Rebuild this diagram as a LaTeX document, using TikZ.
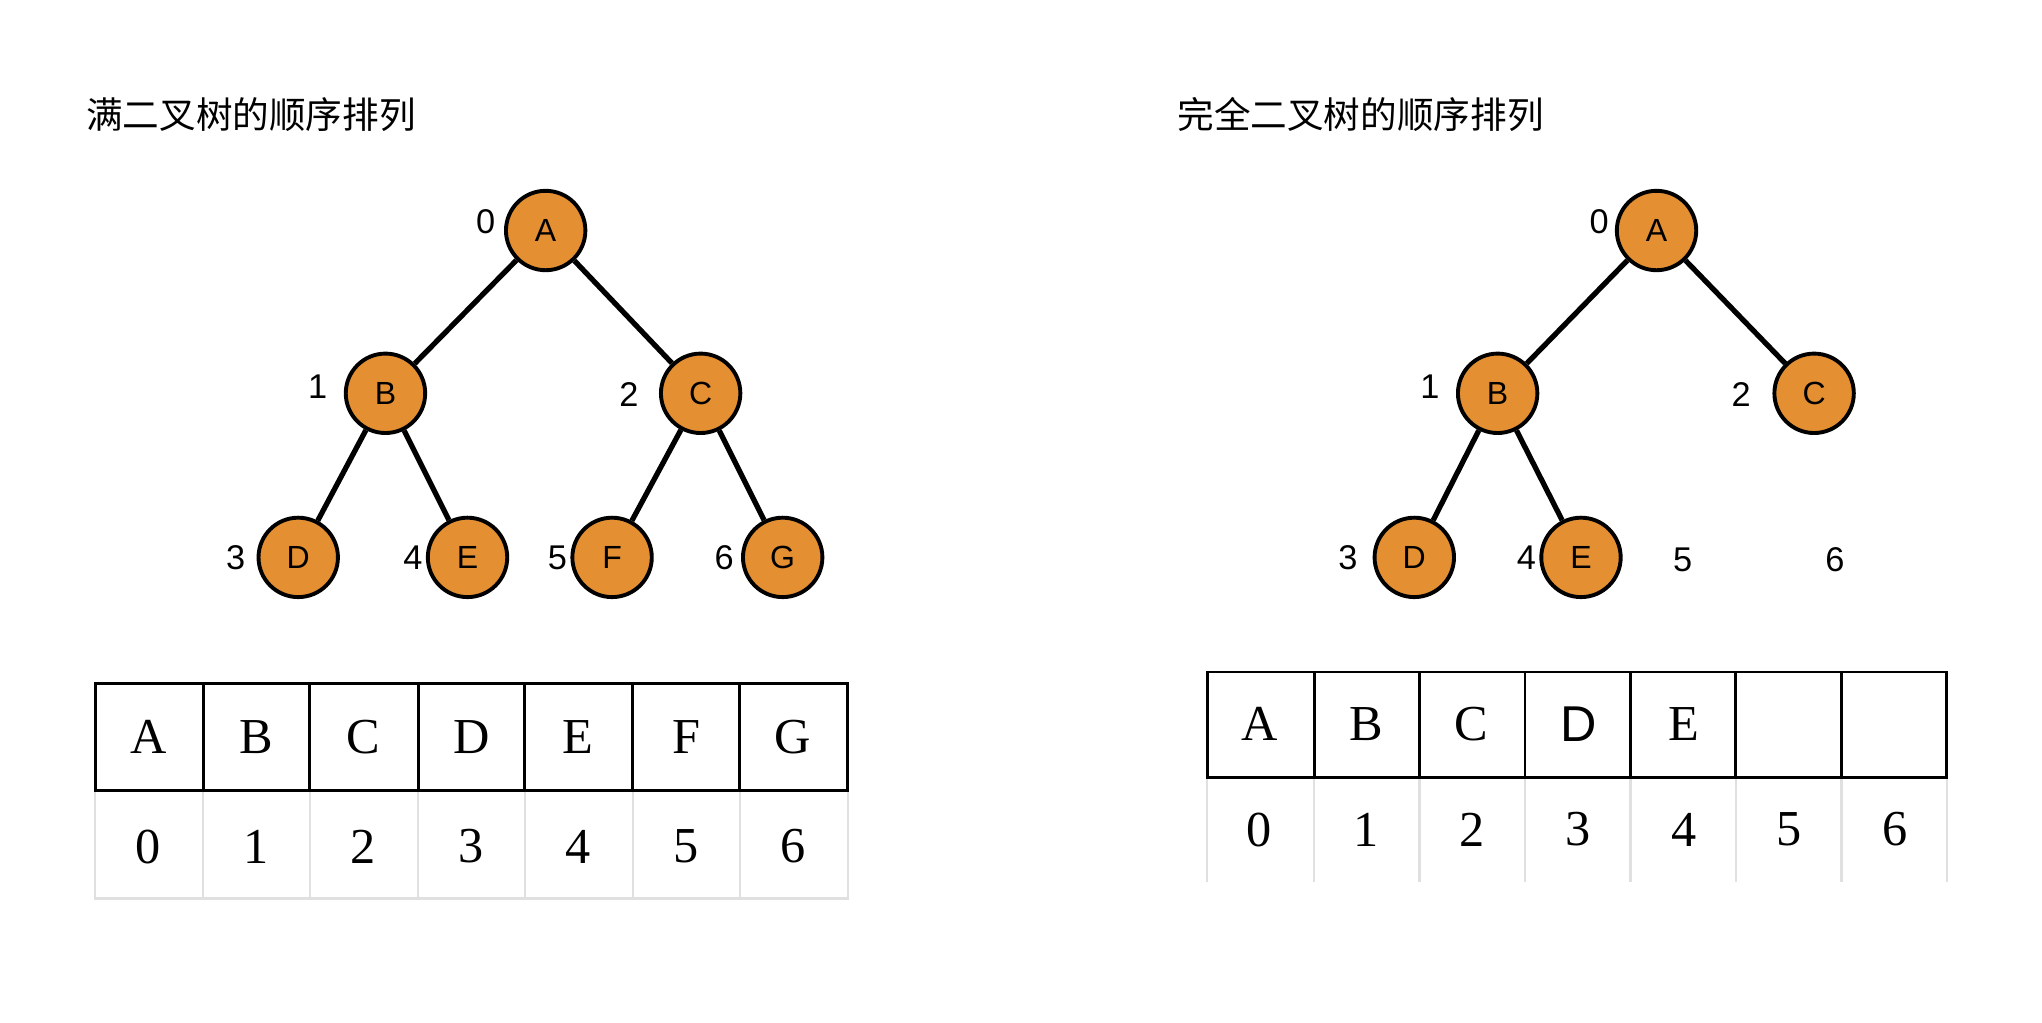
\documentclass[tikz,border=0pt]{standalone}
\usepackage{fontspec}
\setmainfont{Liberation Serif}
\setsansfont{Liberation Sans}
\newfontfamily\cjk{Noto Sans CJK SC}
\begin{document}
\begin{tikzpicture}[x=0.02cm,y=-0.02cm,
  nd/.style={circle,draw=black,line width=1.7pt,fill=orange!75!brown!90!white,fill=ndcol,minimum size=1.22cm,inner sep=0pt,font=\sffamily\fontsize{14}{14}\selectfont},
  lb/.style={font=\sffamily\fontsize{15}{15}\selectfont},
  ed/.style={line width=2.3pt},
  cellt/.style={font=\fontsize{22}{22}\selectfont},
  ttl/.style={anchor=west,font=\cjk\fontsize{16}{16}\selectfont}]
\definecolor{ndcol}{HTML}{E38F32}
\path[use as bounding box] (0,0) rectangle (1568,785);
\node[ttl] (t1) at (60,88) {满二叉树的顺序排列};
\node[ttl] (t2) at (898,88) {完全二叉树的顺序排列};
% left tree
\node[nd] (A) at (419,177) {A};
\node[nd] (B) at (296,302) {B};
\node[nd] (C) at (538,302) {C};
\node[nd] (D) at (229,428) {D};
\node[nd] (E) at (359,428) {E};
\node[nd] (F) at (470,428) {F};
\node[nd] (G) at (601,428) {G};
\draw[ed] (A)--(B); \draw[ed] (A)--(C);
\draw[ed] (B)--(D); \draw[ed] (B)--(E);
\draw[ed] (C)--(F); \draw[ed] (C)--(G);
\foreach \t/\x/\y in {0/373/170,1/244/297,2/483/303,3/181/428,4/317/428,5/428/428,6/556/428}
  \node[lb] (l\t) at (\x,\y) {\t};
% right tree
\node[nd] (rA) at (1272,177) {A};
\node[nd] (rB) at (1150,302) {B};
\node[nd] (rC) at (1393,302) {C};
\node[nd] (rD) at (1086,428) {D};
\node[nd] (rE) at (1214,428) {E};
\draw[ed] (rA)--(rB); \draw[ed] (rA)--(rC);
\draw[ed] (rB)--(rD); \draw[ed] (rB)--(rE);
\foreach \t/\x/\y in {0/1228/170,1/1098/297,2/1337/303,3/1035/428,4/1172/428,5/1292/430,6/1409/430}
  \node[lb] (rl\t) at (\x,\y) {\t};
% left table
\draw[black!12,line width=1pt] (73,607) rectangle (651,690);
\foreach \x in {156,238,321,403,486,568} \draw[black!12,line width=1pt] (\x,607)--(\x,690);
\draw[line width=1.3pt] (73,525) rectangle (651,607);
\foreach \x in {156,238,321,403,486,568} \draw[line width=1.3pt] (\x,525)--(\x,607);
\foreach \t/\c [count=\i from 0] in {A/114,B/197,C/279,D/362,E/444,F/527,G/609}{
  \node[cellt] (ta\i) at (\c,566) {\t};
  \node[cellt] (tn\i) at (\c,650) {\i};}
% right table
\foreach \x in {927,1009,1090,1171,1252,1333,1414,1495} \draw[black!12,line width=1pt] (\x,597)--(\x,677);
\draw[line width=1.3pt] (927,516) rectangle (1495,597);
\foreach \x in {1009,1090,1171,1252,1333,1414} \draw[line width=1.3pt] (\x,516)--(\x,597);
\foreach \t/\c [count=\i from 0] in {A/967,B/1049,C/1130,{\sffamily D}/1212,E/1293}
  \node[cellt] (ra\i) at (\c,556) {\t};
\foreach \c [count=\i from 0] in {967,1049,1130,1212,1293,1374,1455}
  \node[cellt] (rn\i) at (\c,637) {\i};
\end{tikzpicture}
\end{document}
